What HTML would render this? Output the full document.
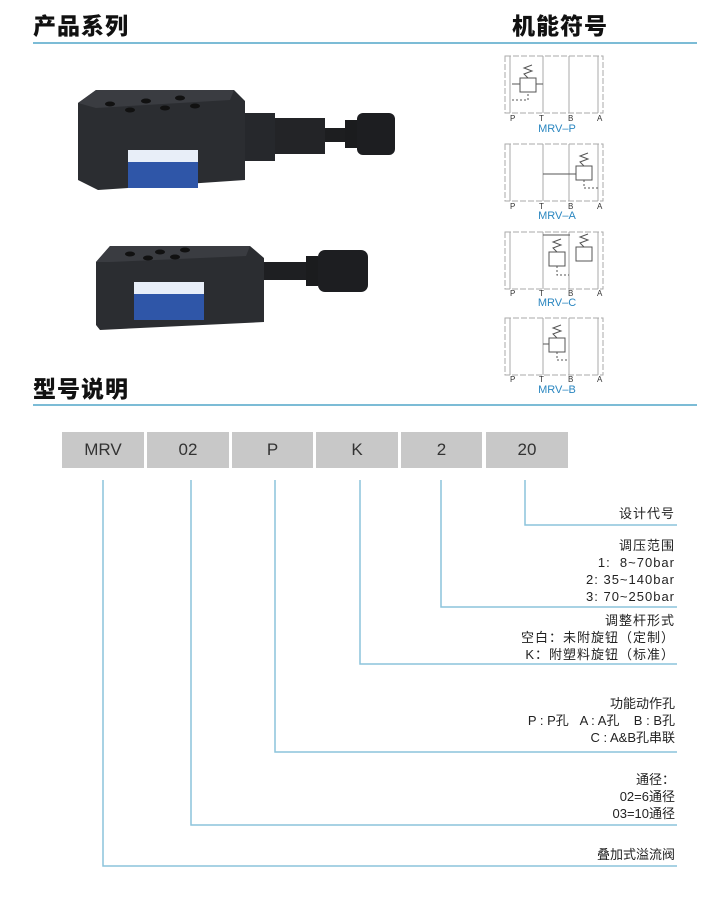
<!DOCTYPE html>
<html><head><meta charset="utf-8"><style>
body{margin:0;width:710px;height:900px;background:#fff;position:relative;overflow:hidden;font-family:"Liberation Sans","Noto Sans CJK SC",sans-serif;}
.t{position:absolute;font-size:23px;font-weight:900;color:#111;letter-spacing:1px;font-family:"Noto Sans CJK SC","WenQuanYi Zen Hei",sans-serif}
.hl{position:absolute;height:2px;background:#7cbcd6}
.box{position:absolute;top:432px;height:36px;background:#c8c8c8;color:#333;font-size:17px;text-align:center;line-height:36px}
.r{position:absolute;right:35px;text-align:right;font-size:13px;color:#222;line-height:17px;letter-spacing:1px;font-family:"Liberation Sans","Noto Sans CJK SC",sans-serif}
</style></head><body>
<div class="t" style="left:33px;top:7px">产品系列</div>
<div class="t" style="left:512px;top:7px">机能符号</div>
<div class="hl" style="left:33px;top:42px;width:664px"></div>
<div class="t" style="left:33px;top:370px">型号说明</div>
<div class="hl" style="left:33px;top:404px;width:664px"></div>

<svg style="position:absolute;left:0;top:0" width="710" height="900">
<!-- product 1 -->
<polygon points="78,103 96,90 234,90 245,101 245,180 98,190 78,180" fill="#2b2d31"/>
<polygon points="78,103 96,90 234,90 230,100 96,108" fill="#3a3c41"/>
<g fill="#111"><ellipse cx="110" cy="104" rx="5" ry="2.5"/><ellipse cx="146" cy="101" rx="5" ry="2.5"/><ellipse cx="180" cy="98" rx="5" ry="2.5"/><ellipse cx="130" cy="110" rx="5" ry="2.5"/><ellipse cx="165" cy="108" rx="5" ry="2.5"/><ellipse cx="195" cy="106" rx="5" ry="2.5"/></g>
<rect x="245" y="113" width="30" height="48" fill="#26282c"/>
<rect x="275" y="118" width="50" height="36" fill="#232427"/>
<rect x="325" y="128" width="20" height="14" fill="#1d1e20"/>
<rect x="345" y="120" width="12" height="28" fill="#1b1c1e"/>
<rect x="357" y="113" width="38" height="42" rx="6" fill="#1d1e21"/>
<rect x="128" y="150" width="70" height="38" fill="#2f56a8"/>
<rect x="128" y="150" width="70" height="12" fill="#e8eef8"/>
<!-- product 2 -->
<polygon points="96,262 110,246 250,246 264,258 264,322 100,330 96,325" fill="#2b2d31"/>
<polygon points="96,262 110,246 250,246 246,256 110,262" fill="#3a3c41"/>
<g fill="#111"><ellipse cx="130" cy="254" rx="5" ry="2.5"/><ellipse cx="160" cy="252" rx="5" ry="2.5"/><ellipse cx="185" cy="250" rx="5" ry="2.5"/><ellipse cx="148" cy="258" rx="5" ry="2.5"/><ellipse cx="175" cy="257" rx="5" ry="2.5"/></g>
<rect x="264" y="262" width="42" height="18" fill="#1e1f22"/>
<rect x="306" y="256" width="12" height="30" fill="#1b1c1e"/>
<rect x="318" y="250" width="50" height="42" rx="7" fill="#1d1e21"/>
<rect x="134" y="282" width="70" height="38" fill="#2f56a8"/>
<rect x="134" y="282" width="70" height="12" fill="#e8eef8"/>

<!-- symbols -->
<g fill="none" stroke="#aaa" stroke-width="1">
<g id="s1">
<rect x="505" y="56" width="98" height="57" stroke-dasharray="6 2"/>
<line x1="510" y1="56" x2="510" y2="113"/><line x1="598" y1="56" x2="598" y2="113"/>
<line x1="543" y1="56" x2="543" y2="113"/><line x1="569" y1="56" x2="569" y2="113"/>
</g>
<use href="#s1" y="88"/><use href="#s1" y="176"/><use href="#s1" y="262"/>
</g>
<g fill="none" stroke="#555" stroke-width="1">
<rect x="520" y="78" width="16" height="14"/><line x1="512" y1="84" x2="520" y2="84"/><line x1="536" y1="84" x2="543" y2="84"/><polyline points="512,100 528,100 528,92" stroke-dasharray="2 2"/><polyline points="528,78 524,74 532,71 524,68 532,65"/>
<rect x="576" y="166" width="16" height="14"/><line x1="543" y1="174" x2="576" y2="174"/><polyline points="584,180 584,188 598,188" stroke-dasharray="2 2"/><polyline points="584,166 580,162 588,159 580,156 588,153"/>
<rect x="549" y="252" width="16" height="14"/><rect x="576" y="247" width="16" height="14"/><line x1="543" y1="235" x2="570" y2="235"/><polyline points="557,266 557,275 569,275" stroke-dasharray="2 2"/><polyline points="557,252 553,248 561,245 553,242 561,239"/><polyline points="584,247 580,243 588,240 580,237 588,234"/>
<rect x="549" y="338" width="16" height="14"/><line x1="543" y1="344" x2="549" y2="344"/><polyline points="557,352 557,360 569,360" stroke-dasharray="2 2"/><polyline points="557,338 553,334 561,331 553,328 561,325"/>
</g>
<g font-size="8" fill="#333" font-family="Liberation Sans">
<text x="510" y="121">P</text><text x="539" y="121">T</text><text x="568" y="121">B</text><text x="597" y="121">A</text>
<text x="510" y="209">P</text><text x="539" y="209">T</text><text x="568" y="209">B</text><text x="597" y="209">A</text>
<text x="510" y="296">P</text><text x="539" y="296">T</text><text x="568" y="296">B</text><text x="597" y="296">A</text>
<text x="510" y="382">P</text><text x="539" y="382">T</text><text x="568" y="382">B</text><text x="597" y="382">A</text>
</g>
<g font-size="11" fill="#2a86c0" font-family="Liberation Sans" text-anchor="middle">
<text x="557" y="132">MRV–P</text><text x="557" y="219">MRV–A</text><text x="557" y="306">MRV–C</text><text x="557" y="393">MRV–B</text>
</g>

<!-- connectors -->
<g stroke="#8cc4dc" stroke-width="1.5" fill="none">
<polyline points="525,480 525,525 677,525"/>
<polyline points="441,480 441,607 677,607"/>
<polyline points="360,480 360,664 677,664"/>
<polyline points="275,480 275,752 677,752"/>
<polyline points="191,480 191,825 677,825"/>
<polyline points="103,480 103,866 677,866"/>
</g>
</svg>

<div class="box" style="left:62px;width:82px">MRV</div>
<div class="box" style="left:147px;width:82px">02</div>
<div class="box" style="left:232px;width:81px">P</div>
<div class="box" style="left:316px;width:82px">K</div>
<div class="box" style="left:401px;width:81px">2</div>
<div class="box" style="left:486px;width:82px">20</div>

<div class="r" style="top:505px">设计代号</div>
<div class="r" style="top:537px">调压范围<br>1:&nbsp; 8~70bar<br>2: 35~140bar<br>3: 70~250bar</div>
<div class="r" style="top:612px">调整杆形式<br>空白：未附旋钮（定制）<br>K：附塑料旋钮（标准）</div>
<div class="r" style="top:695px;letter-spacing:0">功能动作孔<br>P : P孔&nbsp;&nbsp; A : A孔&nbsp;&nbsp;&nbsp; B : B孔<br>C : A&amp;B孔串联</div>
<div class="r" style="top:771px;letter-spacing:0">通径：<br>02=6通径<br>03=10通径</div>
<div class="r" style="top:846px;letter-spacing:0">叠加式溢流阀</div>
</body></html>
